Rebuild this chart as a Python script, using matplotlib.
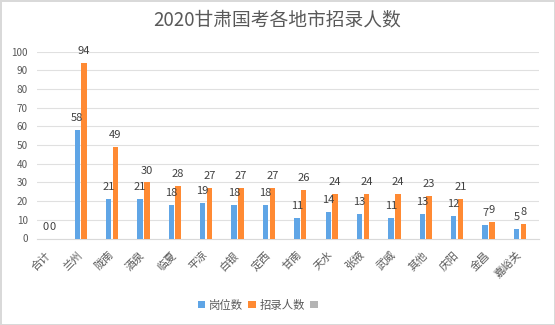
import matplotlib
matplotlib.use("Agg")
import matplotlib.pyplot as plt
import matplotlib.transforms as mtransforms
from matplotlib.patches import Patch
import numpy as np

plt.rcParams['font.family'] = ['Noto Sans CJK SC', 'DejaVu Sans']

title = "2020甘肃国考各地市招录人数"
categories = ["合计", "兰州", "陇南", "酒泉", "临夏", "平凉", "白银", "定西",
              "甘南", "天水", "张掖", "武威", "其他", "庆阳", "金昌", "嘉峪关"]
posts = [0, 58, 21, 21, 18, 19, 18, 18, 11, 14, 13, 11, 13, 12, 7, 5]
hires = [0, 94, 49, 30, 28, 27, 27, 27, 26, 24, 24, 24, 23, 21, 9, 8]
series_names = ["岗位数", "招录人数", ""]
yticks = list(range(0, 101, 10))

c_blue = "#5FA5E6"
c_orange = "#FF8A33"
c_gray = "#B4B4B4"
txt = "#404040"

fig = plt.figure(figsize=(5.55, 3.25), dpi=100)
fig.patch.set_facecolor("white")
fig.patch.set_edgecolor("#d9d9d9")
fig.patch.set_linewidth(1.0)
ax = fig.add_axes([37/555, 1-238.5/325, (539-37)/555, (238.5-51.7)/325])

x = np.arange(len(categories))
w = 0.175
off = 0.217
b1 = ax.bar(x - off, posts, width=w, color=c_blue, zorder=3)
b2 = ax.bar(x, hires, width=w, color=c_orange, zorder=3)

for rect, v in zip(b1, posts):
    ax.annotate(str(v), (rect.get_x() + rect.get_width()/2, v), xytext=(0, 5.0),
                textcoords="offset points", ha="center", va="bottom",
                fontsize=8, color=txt, zorder=4)
for rect, v in zip(b2, hires):
    ax.annotate(str(v), (rect.get_x() + rect.get_width()/2, v), xytext=(0, 5.0),
                textcoords="offset points", ha="center", va="bottom",
                fontsize=8, color=txt, zorder=4)

ax.set_xlim(-0.5, len(categories) - 0.5)
ax.set_ylim(0, 100)
ax.set_yticks(yticks)
ax.set_yticklabels([str(t) for t in yticks], fontsize=7.2, color="#595959")
ax.tick_params(axis="y", length=0, pad=6.5)
ax.yaxis.grid(True, color="#e0e0e0", linewidth=0.8, zorder=0)
ax.set_axisbelow(True)
for s in ["top", "right", "left"]:
    ax.spines[s].set_visible(False)
ax.spines["bottom"].set_color("#d9d9d9")
ax.spines["bottom"].set_linewidth(0.8)

ax.set_xticks(x)
ax.set_xticklabels(categories, rotation=45, ha="right", va="top",
                   fontsize=7.8, color="#595959")
ax.tick_params(axis="x", length=0, pad=8)
shift = mtransforms.ScaledTranslation(0/100, 0, fig.dpi_scale_trans)
for lab in ax.get_xticklabels():
    lab.set_transform(lab.get_transform() + shift)

fig.text(0.5, 1-20/325, title, ha="center", va="center", fontsize=13.5, color="#595959")

handles = [Patch(facecolor=c_blue), Patch(facecolor=c_orange), Patch(facecolor=c_gray)]
fig.legend(handles, series_names, loc="center", bbox_to_anchor=(0.468, 1-305/325),
           ncol=3, frameon=False, fontsize=8.2, handlelength=0.65, handleheight=0.65,
           handletextpad=0.35, columnspacing=0.45, labelcolor="#595959")

fig.savefig("out.png", dpi=100)
